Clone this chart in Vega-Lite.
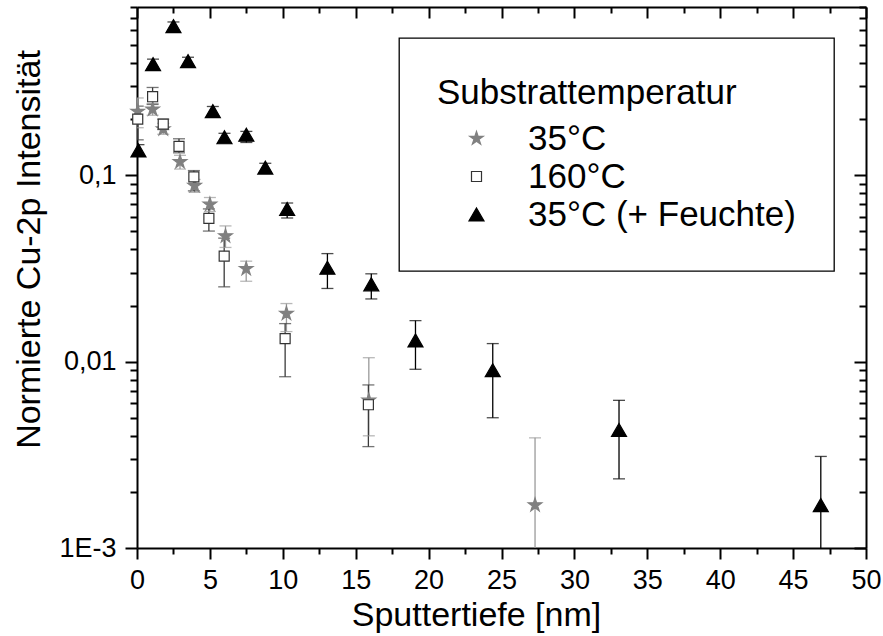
{
  "$schema": "https://vega.github.io/schema/vega-lite/v6.json",
  "width": 729,
  "height": 541,
  "autosize": "none",
  "padding": {"left": 137, "top": 7, "right": 17, "bottom": 88},
  "background": "#ffffff",
  "config": {
    "font": "Liberation Sans",
    "view": {"stroke": null},
    "axis": {"grid": false, "labelColor": "#000", "titleColor": "#000", "domainColor": "#000", "tickColor": "#000", "labelFont": "Liberation Sans", "titleFont": "Liberation Sans", "titleFontWeight": "normal"},
    "legend": {"orient": "none", "legendX": 262, "legendY": 31, "padding": 38, "strokeColor": "#000000", "strokeWidth": 1.3, "fillColor": "#ffffff", "titleFontSize": 35, "titleFontWeight": "normal", "titleColor": "#000", "labelFontSize": 35, "labelColor": "#000", "symbolSize": 225, "symbolOffset": 22, "labelOffset": 34, "rowPadding": 2, "titlePadding": 10, "symbolStrokeWidth": 1.2, "symbolOpacity": 1, "labelLimit": 500, "titleLimit": 600}
  },
  "data": {
    "values": [
      {"series": "35°C", "depth": 0.05, "val": 0.22, "lo": 0.18, "hi": 0.26},
      {"series": "35°C", "depth": 1.07, "val": 0.226, "lo": 0.21, "hi": 0.243},
      {"series": "35°C", "depth": 1.8, "val": 0.177, "lo": 0.166, "hi": 0.19},
      {"series": "35°C", "depth": 2.95, "val": 0.118, "lo": 0.108, "hi": 0.128},
      {"series": "35°C", "depth": 3.95, "val": 0.088, "lo": 0.081, "hi": 0.095},
      {"series": "35°C", "depth": 5.0, "val": 0.0698, "lo": 0.064, "hi": 0.076},
      {"series": "35°C", "depth": 6.07, "val": 0.0472, "lo": 0.041, "hi": 0.0535},
      {"series": "35°C", "depth": 7.49, "val": 0.0315, "lo": 0.027, "hi": 0.0346},
      {"series": "35°C", "depth": 10.25, "val": 0.0181, "lo": 0.0145, "hi": 0.0205},
      {"series": "35°C", "depth": 15.9, "val": 0.0062, "lo": 0.004, "hi": 0.0105},
      {"series": "35°C", "depth": 27.3, "val": 0.0017, "lo": 0.0005, "hi": 0.0039},
      {"series": "160°C", "depth": 0.05, "val": 0.2, "lo": 0.155, "hi": 0.235},
      {"series": "160°C", "depth": 1.07, "val": 0.264, "lo": 0.24, "hi": 0.296},
      {"series": "160°C", "depth": 1.8, "val": 0.188, "lo": 0.176, "hi": 0.2},
      {"series": "160°C", "depth": 2.88, "val": 0.143, "lo": 0.132, "hi": 0.157},
      {"series": "160°C", "depth": 3.9, "val": 0.098, "lo": 0.0825, "hi": 0.106},
      {"series": "160°C", "depth": 4.93, "val": 0.0587, "lo": 0.0502, "hi": 0.066},
      {"series": "160°C", "depth": 5.98, "val": 0.0368, "lo": 0.0252, "hi": 0.046},
      {"series": "160°C", "depth": 10.16, "val": 0.0133, "lo": 0.0083, "hi": 0.016},
      {"series": "160°C", "depth": 15.87, "val": 0.00587, "lo": 0.0035, "hi": 0.0075},
      {"series": "35°C (+ Feuchte)", "depth": 0.1, "val": 0.136, "lo": 0.127, "hi": 0.146},
      {"series": "35°C (+ Feuchte)", "depth": 1.1, "val": 0.395, "lo": 0.37, "hi": 0.42},
      {"series": "35°C (+ Feuchte)", "depth": 2.5, "val": 0.632, "lo": 0.6, "hi": 0.665},
      {"series": "35°C (+ Feuchte)", "depth": 3.5, "val": 0.41, "lo": 0.39, "hi": 0.43},
      {"series": "35°C (+ Feuchte)", "depth": 5.2, "val": 0.221, "lo": 0.208, "hi": 0.234},
      {"series": "35°C (+ Feuchte)", "depth": 6.0, "val": 0.16, "lo": 0.151, "hi": 0.168},
      {"series": "35°C (+ Feuchte)", "depth": 7.5, "val": 0.165, "lo": 0.15, "hi": 0.172},
      {"series": "35°C (+ Feuchte)", "depth": 8.8, "val": 0.11, "lo": 0.104, "hi": 0.116},
      {"series": "35°C (+ Feuchte)", "depth": 10.3, "val": 0.066, "lo": 0.059, "hi": 0.071},
      {"series": "35°C (+ Feuchte)", "depth": 13.06, "val": 0.0319, "lo": 0.0247, "hi": 0.038},
      {"series": "35°C (+ Feuchte)", "depth": 16.07, "val": 0.026, "lo": 0.0217, "hi": 0.0296},
      {"series": "35°C (+ Feuchte)", "depth": 19.1, "val": 0.013, "lo": 0.0091, "hi": 0.0166},
      {"series": "35°C (+ Feuchte)", "depth": 24.4, "val": 0.009, "lo": 0.005, "hi": 0.0125},
      {"series": "35°C (+ Feuchte)", "depth": 33.06, "val": 0.0043, "lo": 0.00235, "hi": 0.0062},
      {"series": "35°C (+ Feuchte)", "depth": 46.9, "val": 0.0017, "lo": 0.0005, "hi": 0.0031}
    ]
  },
  "resolve": {"axis": {"x": "independent", "y": "independent"}},
  "layer": [
    {
      "mark": {"type": "rule", "strokeWidth": 1.3, "clip": true},
      "encoding": {
        "x": {"field": "depth", "type": "quantitative", "scale": {"domain": [0, 50], "nice": false, "zero": false},
          "axis": {"orient": "bottom", "values": [0, 5, 10, 15, 20, 25, 30, 35, 40, 45, 50], "tickSize": 11, "tickWidth": 2, "domainWidth": 2, "labelFontSize": 27, "labelPadding": 8, "labelFlush": false, "labelOverlap": false, "title": "Sputtertiefe [nm]", "titleFontSize": 34, "titleX": 339, "titleY": 77, "titleAlign": "center", "titleBaseline": "alphabetic"}},
        "y": {"field": "lo", "type": "quantitative", "scale": {"type": "log", "domain": [0.001, 0.8], "nice": false},
          "axis": {"orient": "left", "values": [0.001, 0.01, 0.1], "labelExpr": "datum.value < 0.005 ? '1E-3' : (datum.value < 0.05 ? '0,01' : '0,1')", "tickSize": 12, "tickWidth": 2, "domainWidth": 2, "labelFontSize": 27, "labelPadding": 9, "labelFlush": false, "labelOverlap": false, "title": "Normierte Cu-2p Intensität", "titleFontSize": 34, "titleX": -98, "titleY": 242, "titleAngle": -90, "titleAlign": "center", "titleBaseline": "alphabetic"}},
        "y2": {"field": "hi"},
        "color": {"field": "series", "type": "nominal", "legend": null,
          "scale": {"range": ["#3a3a3a", "#9a9a9a", "#000000"]}}
      }
    },
    {
      "mark": {"type": "tick", "orient": "horizontal", "size": 12, "thickness": 1.3, "clip": true},
      "encoding": {
        "x": {"field": "depth", "type": "quantitative", "scale": {"domain": [0, 50], "nice": false, "zero": false},
          "axis": {"orient": "bottom", "values": [2.5, 7.5, 12.5, 17.5, 22.5, 27.5, 32.5, 37.5, 42.5, 47.5], "tickSize": 6, "tickWidth": 2, "domain": false, "labels": false, "title": null}},
        "y": {"field": "hi", "type": "quantitative", "scale": {"type": "log", "domain": [0.001, 0.8], "nice": false},
          "axis": {"orient": "left", "values": [0.002, 0.003, 0.004, 0.005, 0.006, 0.007, 0.008, 0.009, 0.02, 0.03, 0.04, 0.05, 0.06, 0.07, 0.08, 0.09, 0.2, 0.3, 0.4, 0.5, 0.6, 0.7, 0.8], "tickSize": 7, "tickWidth": 2, "domain": false, "labels": false, "title": null}},
        "color": {"field": "series", "type": "nominal", "legend": null}
      }
    },
    {
      "mark": {"type": "tick", "orient": "horizontal", "size": 12, "thickness": 1.3, "clip": true},
      "encoding": {
        "x": {"field": "depth", "type": "quantitative", "scale": {"domain": [0, 50], "nice": false, "zero": false},
          "axis": {"orient": "top", "values": [0, 5, 10, 15, 20, 25, 30, 35, 40, 45, 50], "tickSize": -11, "tickWidth": 2, "domainWidth": 2, "labels": false, "title": null}},
        "y": {"field": "lo", "type": "quantitative", "scale": {"type": "log", "domain": [0.001, 0.8], "nice": false},
          "axis": {"orient": "right", "values": [0.001, 0.01, 0.1], "tickSize": -12, "tickWidth": 2, "domainWidth": 2, "labels": false, "title": null}},
        "color": {"field": "series", "type": "nominal", "legend": null}
      }
    },
    {
      "mark": {"type": "point", "filled": true, "size": 225, "strokeWidth": 1.2, "opacity": 1},
      "encoding": {
        "x": {"field": "depth", "type": "quantitative", "scale": {"domain": [0, 50], "nice": false, "zero": false},
          "axis": {"orient": "top", "values": [2.5, 7.5, 12.5, 17.5, 22.5, 27.5, 32.5, 37.5, 42.5, 47.5], "tickSize": -6, "tickWidth": 2, "domain": false, "labels": false, "title": null}},
        "y": {"field": "val", "type": "quantitative", "scale": {"type": "log", "domain": [0.001, 0.8], "nice": false},
          "axis": {"orient": "right", "values": [0.002, 0.003, 0.004, 0.005, 0.006, 0.007, 0.008, 0.009, 0.02, 0.03, 0.04, 0.05, 0.06, 0.07, 0.08, 0.09, 0.2, 0.3, 0.4, 0.5, 0.6, 0.7, 0.8], "tickSize": -7, "tickWidth": 2, "domain": false, "labels": false, "title": null}},
        "shape": {"field": "series", "type": "nominal", "title": "Substrattemperatur",
          "scale": {"domain": ["35°C", "160°C", "35°C (+ Feuchte)"], "range": ["M0,-0.95L0.213,-0.294L0.903,-0.294L0.345,0.113L0.558,0.769L0,0.363L-0.558,0.769L-0.345,0.113L-0.903,-0.294L-0.213,-0.294Z", "M-0.667,-0.667H0.667V0.667H-0.667Z", "M0,-0.866L1,0.866L-1,0.866Z"]}},
        "fill": {"field": "series", "type": "nominal", "title": "Substrattemperatur",
          "scale": {"domain": ["35°C", "160°C", "35°C (+ Feuchte)"], "range": ["#808080", "#ffffff", "#000000"]}},
        "stroke": {"field": "series", "type": "nominal", "title": "Substrattemperatur",
          "scale": {"domain": ["35°C", "160°C", "35°C (+ Feuchte)"], "range": ["#808080", "#333333", "#000000"]}}
      }
    }
  ]
}
